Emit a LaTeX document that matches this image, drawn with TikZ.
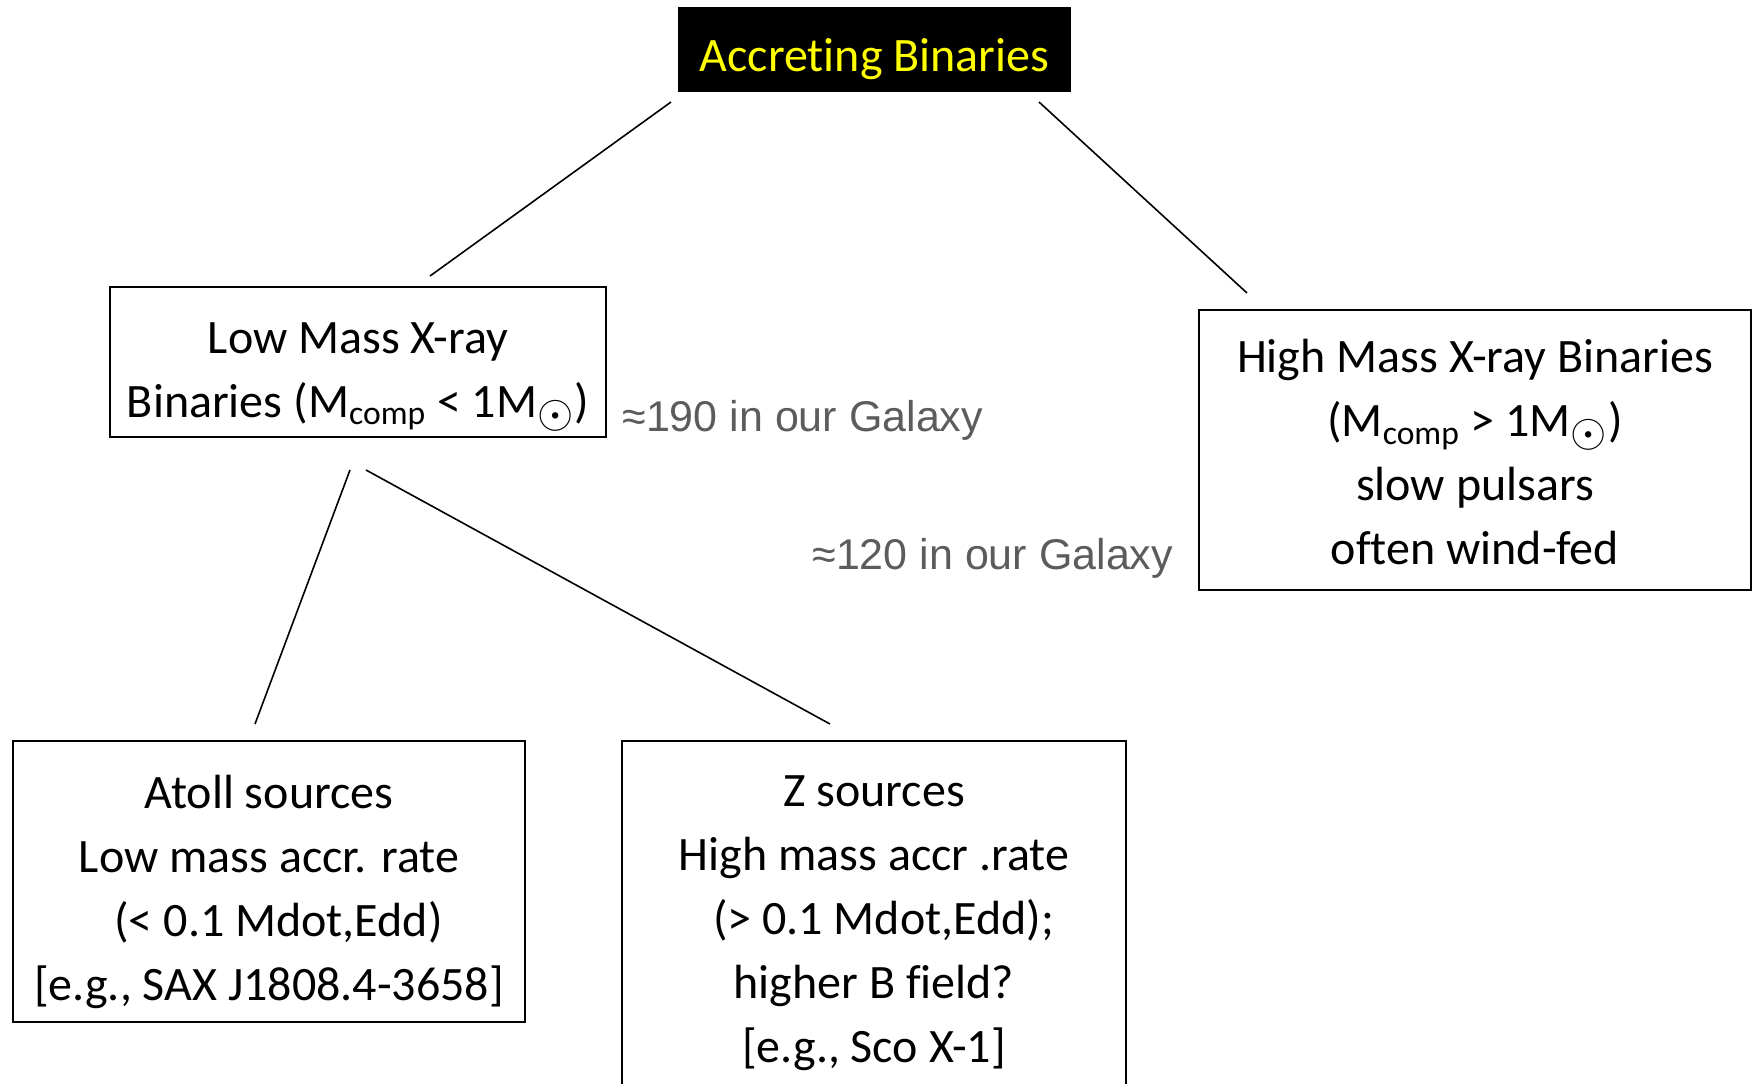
\documentclass[tikz,border=0pt]{standalone}
\usepackage{fontspec}
\setmainfont[Ligatures=NoCommon]{Carlito}
\newfontfamily\arialfont{Liberation Sans}
\usepackage{graphicx}
\usepackage{xcolor}
\usepackage{tikz}
\colorlet{galaxygray}{black!64}
\definecolor{titleyellow}{RGB}{255,255,0}
\newcommand\msun{M\textsubscript{\scalebox{1.35}{$\odot$}}}
\newcommand\mcomp{M\textsubscript{comp}}
\newcommand\lift[1]{\rule{0pt}{#1}}
\tikzstyle{box}=[draw,line width=.8pt,align=center,inner sep=0pt,
  font=\fontsize{24}{32}\selectfont]
\tikzstyle{title}=[fill=black,text=titleyellow,inner sep=0pt,
  minimum width=196.5pt,minimum height=42.5pt,font=\fontsize{24}{32}\selectfont]
\tikzstyle{galaxy}=[anchor=base west,inner sep=0pt,text=galaxygray,
  font=\arialfont\fontsize{21.5}{26}\selectfont]
\tikzstyle{branch}=[line width=.8pt]

\begin{document}
\begin{tikzpicture}[x=.5pt,y=-.5pt]
				\useasboundingbox (0,0) rectangle (1753,1083);
				\node[title] (acc) at (874.5,49.5) {\lift{26pt}Accreting Binaries};
				\node[box,minimum width=248pt,minimum height=75pt] (lmxb) at (358,362)
					{\lift{30pt}Low Mass X-ray\\Binaries (\mcomp{} < 1\msun)};
				\node[box,minimum width=276pt,minimum height=140pt] (hmxb) at (1475,450)
					{\lift{19pt}High Mass X-ray Binaries\\(\mcomp{} > 1\msun)\\slow pulsars\\often wind-fed};
				\node[box,minimum width=256pt,minimum height=140.5pt] (atoll) at (269,881.5)
					{\lift{27pt}Atoll sources\\Low mass accr. rate\\\hspace*{.4em}(< 0.1 Mdot,Edd)\\{}[e.g., SAX J1808.4-3658]};
				\node[box,minimum width=252pt,minimum height=182pt] (zsrc) at (874,923)
					{Z sources\\High mass accr .rate\\\hspace*{.4em}(> 0.1 Mdot,Edd);\\higher B field?\\{}[e.g., Sco X-1]};
				\node[galaxy] (lmxbnum) at (622,431) {≈190 in our Galaxy};
				\node[galaxy] (hmxbnum) at (812,569) {≈120 in our Galaxy};
				\coordinate (accL) at (671,102);
				\coordinate (accR) at (1039,102);
				\coordinate (lmxbT) at (430,276);
				\coordinate (hmxbT) at (1247,293);
				\coordinate (lmxbL) at (350,470);
				\coordinate (lmxbR) at (366,470);
				\coordinate (atollT) at (255,724);
				\coordinate (zsrcT) at (830,724);
				\draw[branch] (accL) -- (lmxbT);
				\draw[branch] (accR) -- (hmxbT);
				\draw[branch] (lmxbL) -- (atollT);
				\draw[branch] (lmxbR) -- (zsrcT);
				\end{tikzpicture}
\end{document}
